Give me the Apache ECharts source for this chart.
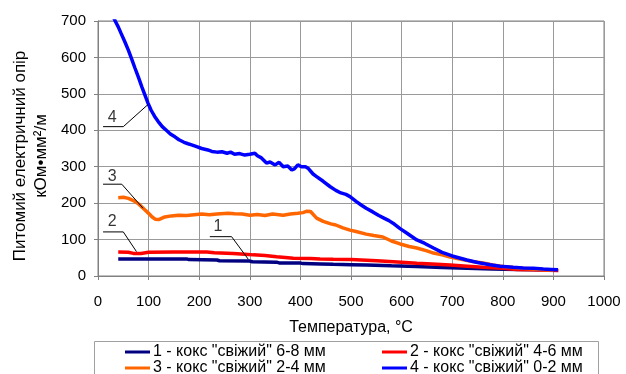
<!DOCTYPE html>
<html><head><meta charset="utf-8">
<script src="https://cdn.jsdelivr.net/npm/echarts@6/dist/echarts.min.js"></script>
<style>html,body{margin:0;padding:0;background:#fff}#c{width:626px;height:374px}</style>
</head><body><div id="c"></div>
<script>
// ---- data ----
const seriesNames = ['1 - кокс "свіжий" 6-8 мм','2 - кокс "свіжий" 4-6 мм','3 - кокс "свіжий" 2-4 мм','4 - кокс "свіжий" 0-2 мм'];
const seriesColors = ['#000080','#FF0000','#FF6600','#0000FF'];
const xTicks = [0,100,200,300,400,500,600,700,800,900,1000];
const yTicks = [0,100,200,300,400,500,600,700];

const t1 = [40,100,175,180,235,240,300,305,353,358,399,405,440,465,500,531,580,630,680,729,780,828,870,909];
const v1 = [47,47,47,45,44,42,41,39,38,36,36,34,33,32,31,30,28,26,23,21,19,18,17,17];

const t2 = [40,60,70,85,100,150,200,215,230,267,290,307,330,353,370,386,420,439,465,500,551,600,630,660,696,730,761,800,828,860,890,910];
const v2 = [66,65,62,62,65,66,66,66,64,62,60,58,56,53,51,49,48,47,46,45,42,38,35,33,30,27,24,21,18,17,16,15];

const t3 = [40,50,60,70,80,93,100,107,113,120,132,145,159,175,190,205,220,235,257,270,285,300,315,330,345,366,380,395,405,413,420,432,445,460,470,484,498,510,530,545,563,580,597,615,630,650,663,680,696,720,740,761,780,800,830,860,880,900];
const v3 = [215,216,213,207,198,181,172,162,156,155,162,165,167,166,168,170,168,170,172,171,170,167,169,166,170,167,170,172,174,178,177,159,150,143,140,132,126,122,115,111,107,96,88,81,77,69,63,58,52,45,40,36,30,26,22,19,17,16];

const t4 = [30,34,40,45,53,60,67,73,80,87,93,99,105,112,119,127,135,143,152,160,170,178,185,195,205,217,225,235,245,255,262,270,280,290,300,310,315,322,333,340,350,358,366,375,383,388,395,402,410,415,425,432,445,459,470,480,490,498,510,520,530,543,555,565,575,583,597,610,630,645,663,680,700,729,750,775,794,820,840,860,880,895,909];
const v4 = [712,700,684,668,643,620,594,571,545,518,496,474,455,438,424,410,400,390,382,374,367,363,360,355,350,346,342,340,341,337,340,334,336,332,334,337,330,325,310,313,305,312,300,302,291,294,305,300,300,296,280,273,260,245,235,228,224,218,205,195,186,176,166,159,152,145,130,118,99,90,77,65,55,44,37,31,27,24,22,21,19,18,17];

// annotation leaders (data coordinates) and label positions
const leaderLabels = ['1','2','3','4'];
const leaderPaths = [
  [[221,108],[264,108],[297,46]],
  [[10,121],[50,121],[76,67]],
  [[10,252],[47,252],[89,186]],
  [[10,410],[50,410],[99,471]]
];
const labelPos = [[237,135],[28,149],[28,272],[28,434]];

const FONT = '"Liberation Sans", Arial, sans-serif';
const zip = (a,b) => a.map((x,i)=>[x,b[i]]);
const dataSets = [zip(t1,v1), zip(t2,v2), zip(t3,v3), zip(t4,v4)];

const chart = echarts.init(document.getElementById('c'), null, {renderer:'canvas'});

const series = [];
for (let i=0;i<4;i++){
  series.push({
    name: seriesNames[i], type:'line', data: dataSets[i],
    showSymbol:false, symbol:'none', smooth:false, clip:true,
    lineStyle:{color:seriesColors[i], width:3.5}, itemStyle:{color:seriesColors[i]},
    z: 3+i, silent:true, animation:false
  });
}
for (let i=0;i<4;i++){
  series.push({
    type:'line', data: leaderPaths[i], showSymbol:false, symbol:'none',
    lineStyle:{color:'#000', width:1}, silent:true, animation:false, z:10
  });
  series.push({
    type:'scatter', data:[labelPos[i]], symbolSize:0, silent:true, animation:false, z:10,
    label:{show:true, position:'inside', formatter: leaderLabels[i], color:'#000', fontSize:16, fontFamily:FONT}
  });
}

const legends = [];
const legPos = [[125,344],[382,344],[125,360],[382,360]];
for (let i=0;i<4;i++){
  legends.push({
    data:[seriesNames[i]], left:legPos[i][0], top:legPos[i][1], padding:0,
    icon:'rect', itemWidth:25, itemHeight:3, itemGap:0,
    textStyle:{fontSize:16, fontFamily:FONT, color:'#000', padding:[0,0,0,-2]},
    selectedMode:false
  });
}

chart.setOption({
  animation:false,
  backgroundColor:'#fff',
  grid:{left:98, right:22, top:21, bottom:98, show:true, borderColor:'#808080', borderWidth:1},
  xAxis:{
    type:'value', min:xTicks[0], max:xTicks[xTicks.length-1], interval:100,
    name:'Температура, °C', nameLocation:'middle', nameGap:44,
    nameTextStyle:{fontSize:16, fontFamily:FONT, color:'#000'},
    axisLine:{show:true, onZero:false, lineStyle:{color:'#808080', width:1}},
    axisTick:{show:true, inside:false, length:4, lineStyle:{color:'#808080'}},
    axisLabel:{margin:18, fontSize:15, fontFamily:FONT, color:'#000', formatter:(v)=>String(v)},
    splitLine:{show:true, lineStyle:{color:'#9a9a9a', width:1}}
  },
  yAxis:{
    type:'value', min:yTicks[0], max:yTicks[yTicks.length-1], interval:100,
    axisLine:{show:true, lineStyle:{color:'#808080', width:1}},
    axisTick:{show:true, inside:false, length:4, lineStyle:{color:'#808080'}},
    axisLabel:{margin:12, fontSize:15, fontFamily:FONT, color:'#000', formatter:(v)=>String(v)},
    splitLine:{show:true, lineStyle:{color:'#9a9a9a', width:1}}
  },
  legend: legends,
  graphic:[
    {type:'rect', shape:{x:94.5, y:341.5, width:504, height:40}, style:{fill:'none', stroke:'#a0a0a0', lineWidth:1}, silent:true},
    {type:'text', x:20, y:156, rotation:Math.PI/2, style:{text:'Питомий електричний опір', font:'17px '+FONT, fill:'#000', align:'center', verticalAlign:'middle'}, silent:true},
    {type:'text', x:41, y:156, rotation:Math.PI/2, style:{text:'кОм•мм²/м', font:'17px '+FONT, fill:'#000', align:'center', verticalAlign:'middle'}, silent:true}
  ],
  series: series
});
</script>
</body></html>
